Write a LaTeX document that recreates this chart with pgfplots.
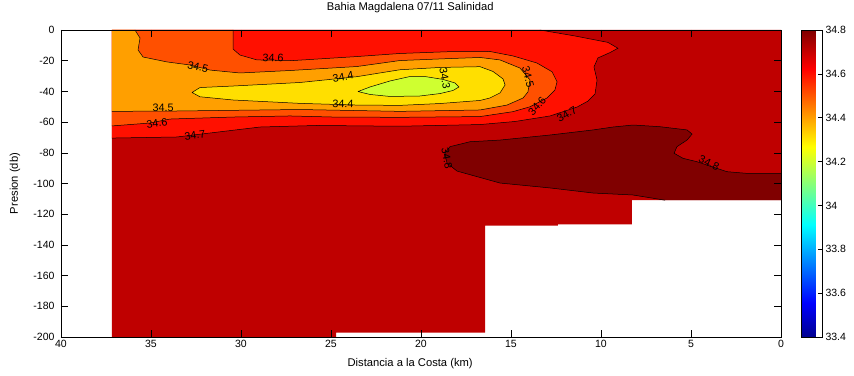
\documentclass[border=0pt]{standalone}
\usepackage{fontspec}
\setmainfont{Liberation Sans}
\usepackage{pgfplots}
\pgfplotsset{compat=1.18}

% contourf band colours (jet, clim 33.4--34.8)
\definecolor{c48}{RGB}{128,0,0}
\definecolor{c47}{RGB}{191,0,0}
\definecolor{c46}{RGB}{255,16,0}
\definecolor{c45}{RGB}{255,80,0}
\definecolor{c44}{RGB}{255,159,0}
\definecolor{c43}{RGB}{255,223,0}
\definecolor{c42}{RGB}{207,255,48}

\pgfplotsset{
  colormap={mjet}{rgb255(0pt)=(0,0,143) rgb255(7pt)=(0,0,255) rgb255(23pt)=(0,255,255)
    rgb255(39pt)=(255,255,0) rgb255(55pt)=(255,0,0) rgb255(63pt)=(128,0,0)},
  band/.style={draw=none, no markers, fill=#1},
  cline/.style={black, line width=0.5pt, no markers, sharp plot},
}
\newcommand{\lab}{\fontsize{10.5}{12}\selectfont}
\newcommand{\tlab}{\fontsize{11.2}{13}\selectfont}
\newcommand{\clab}{\fontsize{10.8}{12}\selectfont}

\begin{document}
\begin{tikzpicture}
\useasboundingbox (0,0) rectangle (854pt,375pt);
\begin{axis}[
  at={(61pt,38pt)}, anchor=south west,
  scale only axis, width=720pt, height=307pt,
  x dir=reverse, xmin=0, xmax=40, ymin=-200, ymax=0,
  xtick={0,5,...,40}, ytick={-200,-180,...,0},
  tick align=inside, major tick length=7pt,
  every tick/.style={black, line width=0.5pt},
  axis line style={line width=0.6pt},
  axis on top,
  /pgf/number format/assume math mode=true,
  ticklabel style={font=\lab},
  yticklabel style={xshift=-3pt},
  title={Bahia Magdalena 07/11 Salinidad},
  title style={font=\tlab, at={(axis description cs:0.485,1.052)}, anchor=center, yshift=0pt},
  xlabel={Distancia a la Costa (km)},
  xlabel style={font=\tlab, at={(axis description cs:0.485,-0.087)}, anchor=center},
  ylabel={Presion (db)},
  ylabel style={font=\tlab, at={(axis description cs:-0.064,0.5)}, anchor=center},
  colormap name=mjet,
  point meta min=33.4, point meta max=34.8,
  colorbar,
  colorbar style={
    at={(parent axis.north east)}, anchor=north west, xshift=11.5pt,
    scale only axis, width=21pt, height=307pt,
    ytick={33.4,33.6,33.8,34,34.2,34.4,34.6,34.8},
    yticklabel style={font=\lab},
    /pgf/number format/assume math mode=true,
    ytick pos=right, tick align=inside, major tick length=4pt,
    every tick/.style={black, line width=0.5pt},
    axis line style={line width=0.6pt},
  },
]

% sampled domain (34.7--34.8 band as background)
\addplot[band=c47] coordinates {
  (37.17,0) (0,0) (0,-110.9) (8.28,-110.9) (8.28,-126.6) (12.39,-126.6)
  (12.39,-127.5) (16.44,-127.5) (16.44,-197.2) (24.72,-197.2) (24.72,-200) (37.17,-200)
} -- cycle;

% > 34.8
\addplot[band=c48] coordinates {
  (18.67,-80.1) (18.39,-76.0) (17.28,-72.8) (15.61,-71.7) (12.83,-68.4) (10.44,-65.1)
  (9.33,-63.2) (8.22,-61.9) (6.72,-63.0) (5.22,-65.1) (4.94,-67.8) (5.22,-71.7)
  (5.78,-76.0) (5.94,-80.3) (5.44,-83.6) (4.67,-85.8) (3.0,-92.3) (1.89,-93.4)
  (0,-93.4) (0,-110.9) (6.44,-110.9) (7.11,-109.6) (8.22,-107.5) (10.44,-106.2)
  (12.83,-102.9) (15.61,-99.7) (18.0,-91.9) (18.56,-86.6)
} -- cycle;

% < 34.7
\addplot[band=c46] coordinates {
  (37.17,0) (13.39,0) (11.44,-3.9) (9.61,-8.1) (9.06,-11.9) (9.5,-14.7) (10.17,-18.2)
  (10.39,-24.1) (10.22,-32.6) (10.33,-41.7) (10.72,-46.3) (11.33,-50.2) (12.83,-56.0)
  (14.78,-59.6) (16.72,-61.6) (21.17,-62.7) (25.78,-62.2) (28.94,-63.2) (31.72,-67.1)
  (33.56,-69.7) (37.17,-70.4)
} -- cycle;

% < 34.6
\addplot[band=c45] coordinates {
  (37.17,0) (30.44,0) (30.44,-12.4) (30.06,-16.3) (29.11,-19.5) (27.11,-19.9)
  (23.56,-17.3) (21.17,-15.3) (18.39,-14.1) (16.17,-14.0) (14.89,-16.9) (13.56,-21.5)
  (12.72,-27.2) (12.44,-33.7) (12.56,-39.1) (13.0,-44.3) (13.94,-50.0) (14.89,-53.2)
  (16.72,-56.4) (21.17,-56.9) (24.89,-56.7) (27.28,-56.0) (30.44,-56.7) (33.94,-58.0)
  (35.06,-60.6) (37.17,-62.5)
} -- cycle;

% < 34.5
\addplot[band=c44] coordinates {
  (37.17,0) (35.89,0) (35.61,-5.2) (35.72,-13.0) (35.44,-17.6) (34.11,-20.8)
  (32.83,-22.8) (31.72,-26.1) (30.06,-28.0) (27.28,-26.4) (23.56,-23.8) (21.17,-19.9)
  (18.39,-18.6) (16.72,-17.9) (15.61,-19.5) (14.5,-24.8) (13.94,-32.6) (14.06,-40.4)
  (14.33,-44.3) (15.22,-48.9) (16.72,-52.1) (21.17,-53.0) (26.72,-51.8) (33.78,-52.8)
  (37.17,-53.0)
} -- cycle;

% < 34.4
\addplot[band=c43] coordinates {
  (32.72,-40.7) (32.28,-37.5) (30.44,-36.5) (26.72,-34.2) (23.56,-30.4) (21.17,-25.9)
  (18.94,-24.4) (16.72,-23.9) (16.0,-27.0) (15.44,-31.9) (15.33,-35.8) (15.61,-41.0)
  (16.17,-44.3) (16.72,-45.9) (18.94,-47.9) (21.17,-49.1) (23.56,-48.9) (26.72,-47.8)
  (30.44,-45.6) (32.28,-43.5)
} -- cycle;

% < 34.3
\addplot[band=c42] coordinates {
  (23.5,-40.1) (22.83,-37.1) (21.72,-33.2) (20.61,-30.3) (19.78,-30.3) (18.78,-32.2)
  (18.11,-34.5) (17.89,-37.1) (18.22,-39.4) (18.94,-41.4) (20.06,-43.0) (21.72,-43.3)
  (22.83,-42.0)
} -- cycle;

% contour lines
\addplot[cline] coordinates {
  (6.44,-110.9) (7.11,-109.6) (8.22,-107.5) (10.44,-106.2) (12.83,-102.9) (15.61,-99.7)
  (18.0,-91.9) (18.56,-86.6) (18.67,-80.1) (18.39,-76.0) (17.28,-72.8) (15.61,-71.7)
  (12.83,-68.4) (10.44,-65.1) (9.33,-63.2) (8.22,-61.9) (6.72,-63.0) (5.22,-65.1)
  (4.94,-67.8) (5.22,-71.7) (5.78,-76.0) (5.94,-80.3) (5.44,-83.6) (4.67,-85.8)
  (3.0,-92.3) (1.89,-93.4) (0,-93.4)
};
\addplot[cline] coordinates {
  (13.39,0) (11.44,-3.9) (9.61,-8.1) (9.06,-11.9) (9.5,-14.7) (10.17,-18.2)
  (10.39,-24.1) (10.22,-32.6) (10.33,-41.7) (10.72,-46.3) (11.33,-50.2) (12.83,-56.0)
  (14.78,-59.6) (16.72,-61.6) (21.17,-62.7) (25.78,-62.2) (28.94,-63.2) (31.72,-67.1)
  (33.56,-69.7) (37.17,-70.4)
};
\addplot[cline] coordinates {
  (30.44,0) (30.44,-12.4) (30.06,-16.3) (29.11,-19.5) (27.11,-19.9)
  (23.56,-17.3) (21.17,-15.3) (18.39,-14.1) (16.17,-14.0) (14.89,-16.9) (13.56,-21.5)
  (12.72,-27.2) (12.44,-33.7) (12.56,-39.1) (13.0,-44.3) (13.94,-50.0) (14.89,-53.2)
  (16.72,-56.4) (21.17,-56.9) (24.89,-56.7) (27.28,-56.0) (30.44,-56.7) (33.94,-58.0)
  (35.06,-60.6) (37.17,-62.5)
};
\addplot[cline] coordinates {
  (35.89,0) (35.61,-5.2) (35.72,-13.0) (35.44,-17.6) (34.11,-20.8)
  (32.83,-22.8) (31.72,-26.1) (30.06,-28.0) (27.28,-26.4) (23.56,-23.8) (21.17,-19.9)
  (18.39,-18.6) (16.72,-17.9) (15.61,-19.5) (14.5,-24.8) (13.94,-32.6) (14.06,-40.4)
  (14.33,-44.3) (15.22,-48.9) (16.72,-52.1) (21.17,-53.0) (26.72,-51.8) (33.78,-52.8)
  (37.17,-53.0)
};
\addplot[cline] coordinates {
  (32.72,-40.7) (32.28,-37.5) (30.44,-36.5) (26.72,-34.2) (23.56,-30.4) (21.17,-25.9)
  (18.94,-24.4) (16.72,-23.9) (16.0,-27.0) (15.44,-31.9) (15.33,-35.8) (15.61,-41.0)
  (16.17,-44.3) (16.72,-45.9) (18.94,-47.9) (21.17,-49.1) (23.56,-48.9) (26.72,-47.8)
  (30.44,-45.6) (32.28,-43.5) (32.72,-40.7)
};
\addplot[cline] coordinates {
  (23.5,-40.1) (22.83,-37.1) (21.72,-33.2) (20.61,-30.3) (19.78,-30.3) (18.78,-32.2)
  (18.11,-34.5) (17.89,-37.1) (18.22,-39.4) (18.94,-41.4) (20.06,-43.0) (21.72,-43.3)
  (22.83,-42.0) (23.5,-40.1)
};

% contour labels
\begin{scope}[every node/.style={font=\clab, inner sep=0pt}]
\node[rotate=-3]  at (axis cs:28.22,-18.2) {34.6};
\node[rotate=-14] at (axis cs:32.39,-24.1) {34.5};
\node[rotate=10]  at (axis cs:24.33,-30.6) {34.4};
\node[rotate=-80] at (axis cs:18.67,-31.3) {34.3};
\node             at (axis cs:34.33,-50.8) {34.5};
\node[rotate=8]   at (axis cs:34.67,-60.6) {34.6};
\node[rotate=8]   at (axis cs:32.56,-68.4) {34.7};
\node[rotate=-2]  at (axis cs:24.33,-48.2) {34.4};
\node[rotate=-75] at (axis cs:14.05,-30.6) {34.5};
\node[rotate=50]  at (axis cs:13.55,-49.6) {34.6};
\node[rotate=30]  at (axis cs:11.9,-55.0)  {34.7};
\node[rotate=-80] at (axis cs:18.56,-83.4) {34.8};
\node[rotate=-25] at (axis cs:4.0,-86.6)   {34.8};
\end{scope}
\end{axis}
\end{tikzpicture}
\end{document}
